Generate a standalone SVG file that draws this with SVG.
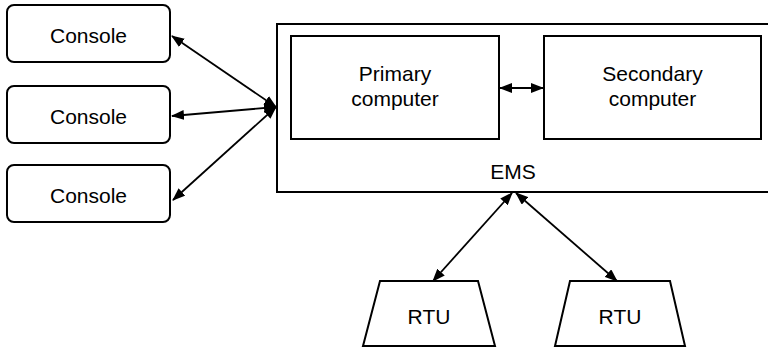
<svg xmlns="http://www.w3.org/2000/svg" width="768" height="351" viewBox="0 0 768 351">
<style>
.box{fill:#fff;stroke:#000;stroke-width:2}
.t{font-family:"Liberation Sans",Arial,sans-serif;font-size:21px;fill:#000;text-anchor:middle}
.c{fill:none;stroke:#000;stroke-width:1.8}
</style>
<defs>
<marker id="ah" markerUnits="userSpaceOnUse" markerWidth="13" markerHeight="10" refX="12" refY="5" orient="auto-start-reverse" viewBox="0 0 13 10">
<path d="M0,0 L13,5 L0,10 z" fill="#000"/>
</marker>
</defs>
<rect width="768" height="351" fill="#fff"/>
<g id="ems">
<rect class="box" x="277" y="24" width="503" height="168"/>
<text class="t" x="513" y="179">EMS</text>
</g>
<g id="primary">
<rect class="box" x="291" y="36" width="208" height="103"/>
<text class="t" x="395" y="81">Primary</text>
<text class="t" x="395" y="106">computer</text>
</g>
<g id="secondary">
<rect class="box" x="544" y="36" width="217" height="103"/>
<text class="t" x="652.5" y="81">Secondary</text>
<text class="t" x="652.5" y="106">computer</text>
</g>
<g id="console1">
<rect class="box" x="7" y="5" width="163" height="57" rx="7"/>
<text class="t" x="88.5" y="43">Console</text>
</g>
<g id="console2">
<rect class="box" x="7" y="86" width="163" height="57" rx="7"/>
<text class="t" x="88.5" y="124">Console</text>
</g>
<g id="console3">
<rect class="box" x="7" y="165" width="163" height="57" rx="7"/>
<text class="t" x="88.5" y="203">Console</text>
</g>
<g id="rtu1">
<path class="box" d="M380,281 L478,281 L495,346 L363,346 Z"/>
<text class="t" x="429" y="324">RTU</text>
</g>
<g id="rtu2">
<path class="box" d="M570,281 L670,281 L685,346 L555,346 Z"/>
<text class="t" x="620" y="324">RTU</text>
</g>
<g id="connectors">
<line class="c" x1="172" y1="36" x2="276" y2="107" marker-start="url(#ah)" marker-end="url(#ah)"/>
<line class="c" x1="172" y1="116" x2="276" y2="107" marker-start="url(#ah)" marker-end="url(#ah)"/>
<line class="c" x1="173" y1="200" x2="276" y2="107" marker-start="url(#ah)" marker-end="url(#ah)"/>
<line class="c" x1="500" y1="88" x2="543" y2="88" marker-start="url(#ah)" marker-end="url(#ah)"/>
<line class="c" x1="433" y1="281" x2="512" y2="193" marker-start="url(#ah)" marker-end="url(#ah)"/>
<line class="c" x1="617" y1="281" x2="516" y2="193" marker-start="url(#ah)" marker-end="url(#ah)"/>
</g>
</svg>
